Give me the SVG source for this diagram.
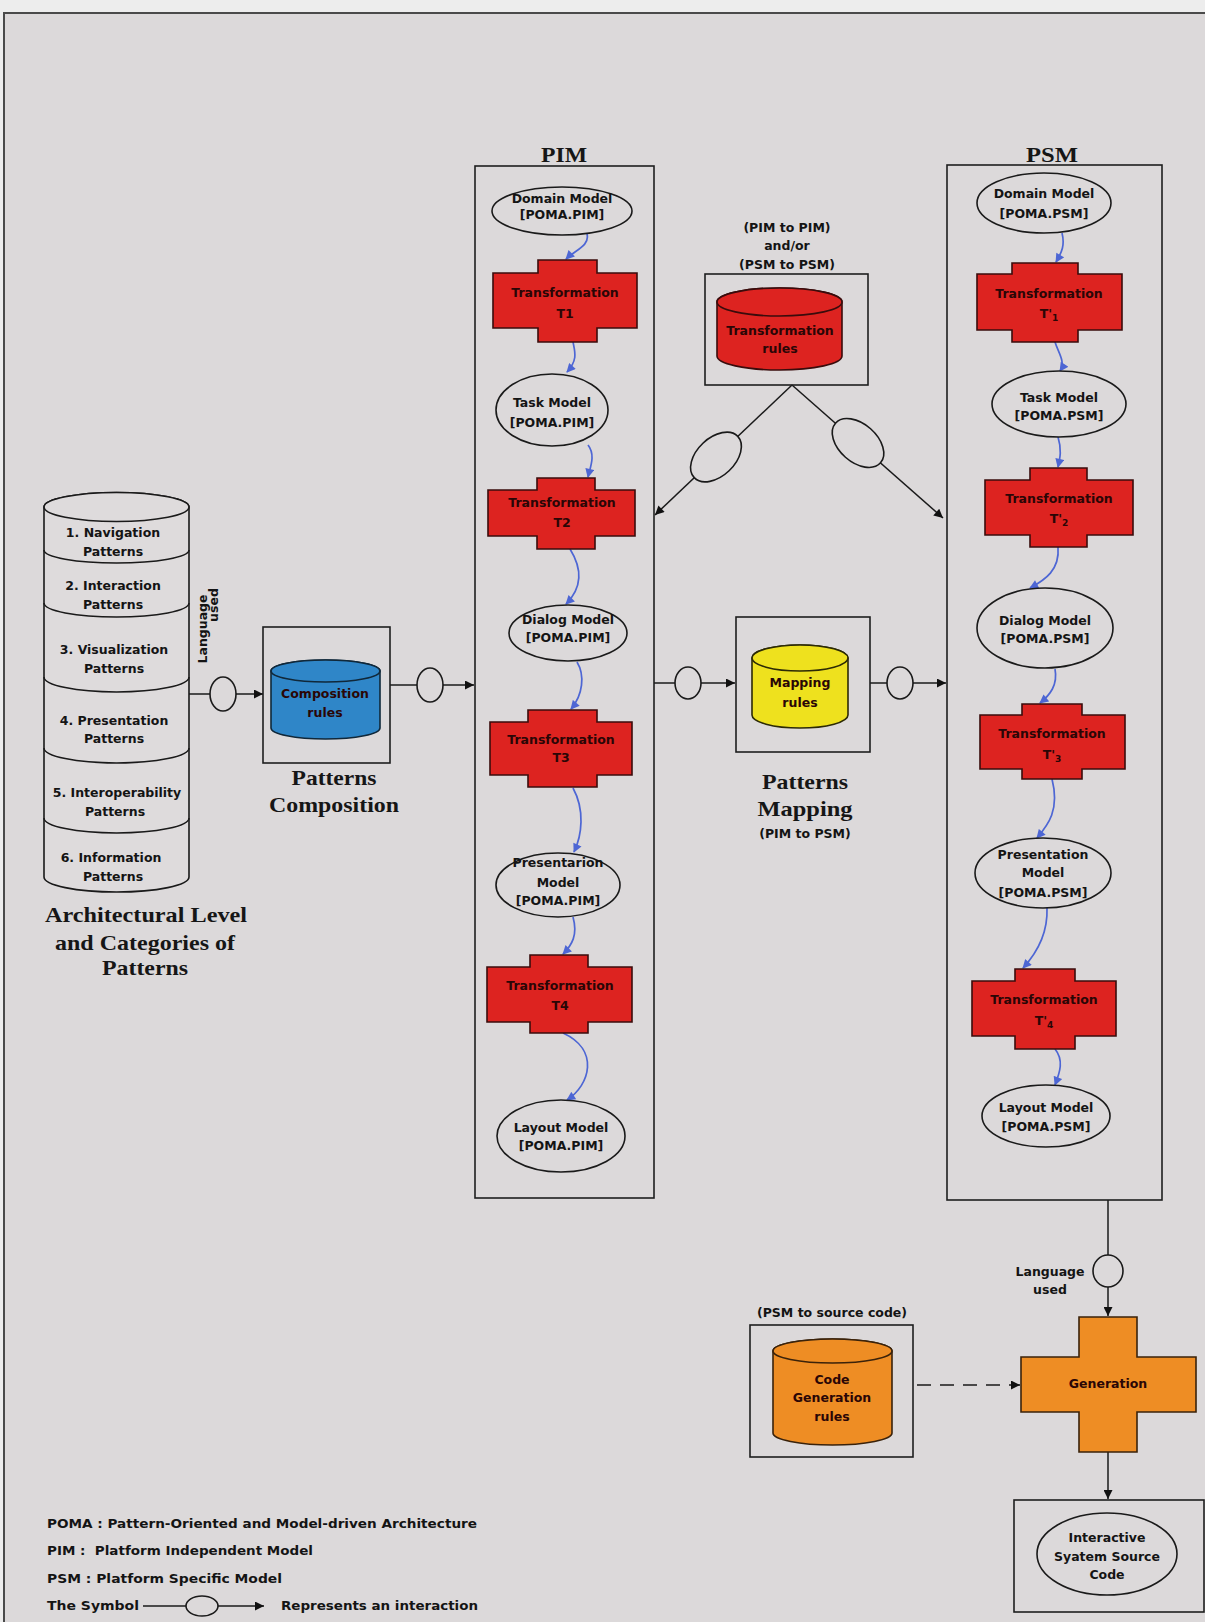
<svg xmlns="http://www.w3.org/2000/svg" width="1205" height="1622" viewBox="0 0 1205 1622">
<defs>
<style>
.frame{fill:#dcd9da;stroke:#4a4a4a;stroke-width:2}
.box{fill:none;stroke:#1e1e1e;stroke-width:1.6}
.ln{stroke:#1a1a1a;stroke-width:1.5;fill:none}
.el{fill:#dcd9da;stroke:#1a1a1a;stroke-width:1.6}
.red{fill:#dd2320;stroke:#3a0c0c;stroke-width:1.6}
.blu{fill:#2f86c8;stroke:#10283a;stroke-width:1.6}
.yel{fill:#eee11e;stroke:#2c2a05;stroke-width:1.6}
.org{fill:#ee8d24;stroke:#3a220a;stroke-width:1.6}
.cyl{fill:#dedbdc;stroke:#1a1a1a;stroke-width:1.6}
.t{font-family:"DejaVu Sans","Liberation Sans",sans-serif;font-weight:bold;font-size:12.5px;fill:#141414;text-anchor:middle}
.tr{font-family:"DejaVu Sans","Liberation Sans",sans-serif;font-weight:bold;font-size:12.5px;fill:#2a0606;text-anchor:middle}
.lg{font-family:"DejaVu Sans","Liberation Sans",sans-serif;font-weight:bold;font-size:12px;fill:#141414}
.s{font-family:"Liberation Serif","Times New Roman",serif;font-weight:bold;font-size:21px;fill:#161616;text-anchor:middle}
.bc{stroke:#4d66d4;stroke-width:1.7;fill:none;marker-end:url(#ab)}
.ar{stroke:#1a1a1a;stroke-width:1.5;fill:none;marker-end:url(#ak)}
</style>
<marker id="ab" viewBox="0 0 10 10" refX="9" refY="5" markerWidth="10" markerHeight="9" markerUnits="userSpaceOnUse" orient="auto"><path d="M0,0 L10,5 L0,10 z" fill="#4d66d4"/></marker>
<marker id="ak" viewBox="0 0 10 10" refX="10" refY="5" markerWidth="11" markerHeight="9" markerUnits="userSpaceOnUse" orient="auto"><path d="M0,0 L10,5 L0,10 z" fill="#111"/></marker>
</defs>
<rect x="0" y="0" width="1205" height="1622" fill="#ededed"/>
<rect class="frame" x="4" y="13" width="1215" height="1625"/>

<g id="connectors">
<path class="bc" d="M587,234 C590,246 575,250 566,259"/>
<path class="bc" d="M573,342 C575,352 578,360 567,372"/>
<path class="bc" d="M588,445 C596,455 590,468 588,477"/>
<path class="bc" d="M570,549 C580,565 585,585 566,604"/>
<path class="bc" d="M577,662 C585,675 583,695 571,709"/>
<path class="bc" d="M573,788 C585,810 582,835 574,852"/>
<path class="bc" d="M573,917 C578,935 572,945 563,954"/>
<path class="bc" d="M563,1033 C600,1050 590,1085 567,1100"/>
<path class="bc" d="M1062,233 C1065,245 1062,252 1056,262"/>
<path class="bc" d="M1055,342 C1058,352 1066,362 1060,371"/>
<path class="bc" d="M1058,437 C1062,450 1060,458 1058,467"/>
<path class="bc" d="M1058,547 C1060,570 1045,580 1030,588"/>
<path class="bc" d="M1055,669 C1058,685 1050,695 1040,703"/>
<path class="bc" d="M1052,779 C1060,810 1048,825 1037,838"/>
<path class="bc" d="M1047,908 C1048,935 1035,955 1023,968"/>
<path class="bc" d="M1055,1049 C1064,1060 1060,1072 1055,1085"/>
<line class="ar" x1="189" y1="694" x2="263" y2="694"/>
<ellipse class="el" cx="223" cy="694" rx="13" ry="17"/>
<line class="ar" x1="390" y1="685" x2="474" y2="685"/>
<ellipse class="el" cx="430" cy="685" rx="13" ry="17"/>
<line class="ar" x1="654" y1="683" x2="735" y2="683"/>
<ellipse class="el" cx="688" cy="683" rx="13" ry="16"/>
<line class="ar" x1="870" y1="683" x2="946" y2="683"/>
<ellipse class="el" cx="900" cy="683" rx="13" ry="16"/>
<line class="ar" x1="792" y1="385" x2="655" y2="515"/>
<ellipse class="el" cx="716" cy="457" rx="30" ry="19" transform="rotate(-43.5 716 457)"/>
<line class="ar" x1="792" y1="385" x2="943" y2="518"/>
<ellipse class="el" cx="858" cy="443" rx="30" ry="19" transform="rotate(41.4 858 443)"/>
<line class="ar" x1="1108" y1="1200" x2="1108" y2="1316"/>
<ellipse class="el" cx="1108" cy="1271" rx="15" ry="16"/>
<line class="ar" x1="1108" y1="1452" x2="1108" y2="1499"/>
<line class="ar" x1="917" y1="1385" x2="1020" y2="1385" stroke-dasharray="14 9"/>
</g>

<g id="patterns-categories">
<path class="cyl" d="M44,507 A72.5,14.5 0 0 1 189,507 V877 A72.5,15 0 0 1 44,877 Z"/>
<ellipse class="cyl" cx="116.5" cy="507" rx="72.5" ry="14.5"/>
<path class="ln" d="M44,550 A72.5,13 0 0 0 189,550"/>
<path class="ln" d="M44,603 A72.5,14 0 0 0 189,603"/>
<path class="ln" d="M44,677 A72.5,15 0 0 0 189,677"/>
<path class="ln" d="M44,748 A72.5,15 0 0 0 189,748"/>
<path class="ln" d="M44,818 A72.5,15 0 0 0 189,818"/>
<text class="t" x="113" y="537">1. Navigation</text>
<text class="t" x="113" y="556">Patterns</text>
<text class="t" x="113" y="590">2. Interaction</text>
<text class="t" x="113" y="609">Patterns</text>
<text class="t" x="114" y="654">3. Visualization</text>
<text class="t" x="114" y="673">Patterns</text>
<text class="t" x="114" y="725">4. Presentation</text>
<text class="t" x="114" y="743">Patterns</text>
<text class="t" x="117" y="797">5. Interoperability</text>
<text class="t" x="115" y="816">Patterns</text>
<text class="t" x="111" y="862">6. Information</text>
<text class="t" x="113" y="881">Patterns</text>
<text class="s" x="146" y="922" textLength="202" lengthAdjust="spacingAndGlyphs">Architectural Level</text>
<text class="s" x="145" y="950" textLength="180" lengthAdjust="spacingAndGlyphs">and Categories of</text>
<text class="s" x="145" y="975" textLength="86" lengthAdjust="spacingAndGlyphs">Patterns</text>
<text class="t" transform="translate(207,629) rotate(-90)">Language</text>
<text class="t" transform="translate(218,605) rotate(-90)">used</text>
</g>

<g id="patterns-composition">
<rect class="box" x="263" y="627" width="127" height="136"/>
<path class="blu" d="M271,671 A54.5,11 0 0 1 380,671 V728 A54.5,11 0 0 1 271,728 Z"/>
<ellipse class="blu" cx="325.5" cy="671" rx="54.5" ry="11"/>
<text class="tr" x="325" y="698">Composition</text>
<text class="tr" x="325" y="717">rules</text>
<text class="s" x="334" y="785" textLength="85" lengthAdjust="spacingAndGlyphs">Patterns</text>
<text class="s" x="334" y="812" textLength="130" lengthAdjust="spacingAndGlyphs">Composition</text>
</g>

<g id="pim">
<rect class="box" x="475" y="166" width="179" height="1032"/>
<text class="s" x="564" y="162" textLength="46" lengthAdjust="spacingAndGlyphs">PIM</text>
</g>
<g id="pim-domain">
<ellipse class="el" cx="562" cy="211" rx="70" ry="24"/>
<text class="t" x="562" y="203">Domain Model</text>
<text class="t" x="562" y="219">[POMA.PIM]</text>
</g>
<g id="pim-t1">
<path class="red" d="M538,260 H597 V273 H637 V328 H597 V342 H538 V328 H493 V273 H538 Z"/>
<text class="tr" x="565" y="297">Transformation</text>
<text class="tr" x="565" y="318">T1</text>
</g>
<g id="pim-task">
<ellipse class="el" cx="552" cy="410" rx="56" ry="36"/>
<text class="t" x="552" y="407">Task Model</text>
<text class="t" x="552" y="427">[POMA.PIM]</text>
</g>
<g id="pim-t2">
<path class="red" d="M537,478 H595 V490 H635 V536 H595 V549 H537 V536 H488 V490 H537 Z"/>
<text class="tr" x="562" y="507">Transformation</text>
<text class="tr" x="562" y="527">T2</text>
</g>
<g id="pim-dialog">
<ellipse class="el" cx="568" cy="633" rx="59" ry="28"/>
<text class="t" x="568" y="624">Dialog Model</text>
<text class="t" x="568" y="642">[POMA.PIM]</text>
</g>
<g id="pim-t3">
<path class="red" d="M528,710 H597 V722 H632 V775 H597 V787 H528 V775 H490 V722 H528 Z"/>
<text class="tr" x="561" y="744">Transformation</text>
<text class="tr" x="561" y="762">T3</text>
</g>
<g id="pim-presentation">
<ellipse class="el" cx="558" cy="885" rx="62" ry="32"/>
<text class="t" x="558" y="867">Presentarion</text>
<text class="t" x="558" y="887">Model</text>
<text class="t" x="558" y="905">[POMA.PIM]</text>
</g>
<g id="pim-t4">
<path class="red" d="M530,955 H588 V967 H632 V1022 H588 V1033 H530 V1022 H487 V967 H530 Z"/>
<text class="tr" x="560" y="990">Transformation</text>
<text class="tr" x="560" y="1010">T4</text>
</g>
<g id="pim-layout">
<ellipse class="el" cx="561" cy="1136" rx="64" ry="36"/>
<text class="t" x="561" y="1132">Layout Model</text>
<text class="t" x="561" y="1150">[POMA.PIM]</text>
</g>

<g id="transformation-rules">
<text class="t" x="787" y="232">(PIM to PIM)</text>
<text class="t" x="787" y="250">and/or</text>
<text class="t" x="787" y="269">(PSM to PSM)</text>
<rect class="box" x="705" y="274" width="163" height="111"/>
<path class="red" d="M717,302 A62.5,14 0 0 1 842,302 V356 A62.5,14 0 0 1 717,356 Z"/>
<ellipse class="red" cx="779.5" cy="302" rx="62.5" ry="14"/>
<text class="tr" x="780" y="335">Transformation</text>
<text class="tr" x="780" y="353">rules</text>
</g>

<g id="patterns-mapping">
<rect class="box" x="736" y="617" width="134" height="135"/>
<path class="yel" d="M752,658 A48,13 0 0 1 848,658 V715 A48,13 0 0 1 752,715 Z"/>
<ellipse class="yel" cx="800" cy="658" rx="48" ry="13"/>
<text class="tr" x="800" y="687">Mapping</text>
<text class="tr" x="800" y="707">rules</text>
<text class="s" x="805" y="789" textLength="86" lengthAdjust="spacingAndGlyphs">Patterns</text>
<text class="s" x="805" y="816" textLength="95" lengthAdjust="spacingAndGlyphs">Mapping</text>
<text class="t" x="805" y="838">(PIM to PSM)</text>
</g>

<g id="psm">
<rect class="box" x="947" y="165" width="215" height="1035"/>
<text class="s" x="1052" y="162" textLength="52" lengthAdjust="spacingAndGlyphs">PSM</text>
</g>
<g id="psm-domain">
<ellipse class="el" cx="1044" cy="203" rx="67" ry="30"/>
<text class="t" x="1044" y="198">Domain Model</text>
<text class="t" x="1044" y="218">[POMA.PSM]</text>
</g>
<g id="psm-t1">
<path class="red" d="M1012,263 H1078 V274 H1122 V330 H1078 V342 H1012 V330 H977 V274 H1012 Z"/>
<text class="tr" x="1049" y="298">Transformation</text>
<text class="tr" x="1049" y="318">T'<tspan font-size="9" dy="3">1</tspan></text>
</g>
<g id="psm-task">
<ellipse class="el" cx="1059" cy="404" rx="67" ry="33"/>
<text class="t" x="1059" y="402">Task Model</text>
<text class="t" x="1059" y="420">[POMA.PSM]</text>
</g>
<g id="psm-t2">
<path class="red" d="M1030,468 H1087 V480 H1133 V535 H1087 V547 H1030 V535 H985 V480 H1030 Z"/>
<text class="tr" x="1059" y="503">Transformation</text>
<text class="tr" x="1059" y="523">T'<tspan font-size="9" dy="3">2</tspan></text>
</g>
<g id="psm-dialog">
<ellipse class="el" cx="1045" cy="628" rx="68" ry="40"/>
<text class="t" x="1045" y="625">Dialog Model</text>
<text class="t" x="1045" y="643">[POMA.PSM]</text>
</g>
<g id="psm-t3">
<path class="red" d="M1022,704 H1082 V715 H1125 V769 H1082 V779 H1022 V769 H980 V715 H1022 Z"/>
<text class="tr" x="1052" y="738">Transformation</text>
<text class="tr" x="1052" y="759">T'<tspan font-size="9" dy="3">3</tspan></text>
</g>
<g id="psm-presentation">
<ellipse class="el" cx="1043" cy="873" rx="68" ry="35"/>
<text class="t" x="1043" y="859">Presentation</text>
<text class="t" x="1043" y="877">Model</text>
<text class="t" x="1043" y="897">[POMA.PSM]</text>
</g>
<g id="psm-t4">
<path class="red" d="M1015,969 H1075 V981 H1116 V1036 H1075 V1049 H1015 V1036 H972 V981 H1015 Z"/>
<text class="tr" x="1044" y="1004">Transformation</text>
<text class="tr" x="1044" y="1025">T'<tspan font-size="9" dy="3">4</tspan></text>
</g>
<g id="psm-layout">
<ellipse class="el" cx="1046" cy="1116" rx="64" ry="31"/>
<text class="t" x="1046" y="1112">Layout Model</text>
<text class="t" x="1046" y="1131">[POMA.PSM]</text>
</g>

<g id="language-used">
<text class="t" x="1050" y="1276">Language</text>
<text class="t" x="1050" y="1294">used</text>
</g>

<g id="code-generation-rules">
<text class="t" x="832" y="1317">(PSM to source code)</text>
<rect class="box" x="750" y="1325" width="163" height="132"/>
<path class="org" d="M773,1351 A59.5,12 0 0 1 892,1351 V1433 A59.5,12 0 0 1 773,1433 Z"/>
<ellipse class="org" cx="832.5" cy="1351" rx="59.5" ry="12"/>
<text class="tr" x="832" y="1384">Code</text>
<text class="tr" x="832" y="1402">Generation</text>
<text class="tr" x="832" y="1421">rules</text>
</g>

<g id="generation">
<path class="org" d="M1079,1317 H1137 V1357 H1196 V1412 H1137 V1452 H1079 V1412 H1021 V1357 H1079 Z"/>
<text class="tr" x="1108" y="1388">Generation</text>
</g>

<g id="source-code">
<rect class="box" x="1014" y="1500" width="190" height="112"/>
<ellipse class="el" cx="1107" cy="1554" rx="70" ry="41"/>
<text class="t" x="1107" y="1542">Interactive</text>
<text class="t" x="1107" y="1561">Syatem Source</text>
<text class="t" x="1107" y="1579">Code</text>
</g>

<g id="legend">
<text class="lg" x="47" y="1528" textLength="430" lengthAdjust="spacingAndGlyphs">POMA : Pattern-Oriented and Model-driven Architecture</text>
<text class="lg" x="47" y="1555" textLength="266" lengthAdjust="spacingAndGlyphs">PIM :&#160; Platform Independent Model</text>
<text class="lg" x="47" y="1583" textLength="235" lengthAdjust="spacingAndGlyphs">PSM : Platform Specific Model</text>
<text class="lg" x="47" y="1610" textLength="92" lengthAdjust="spacingAndGlyphs">The Symbol</text>
<line class="ln" x1="143" y1="1606" x2="186" y2="1606"/>
<ellipse class="el" cx="202" cy="1606" rx="16" ry="10"/>
<line class="ar" x1="218" y1="1606" x2="264" y2="1606"/>
<text class="lg" x="281" y="1610" textLength="197" lengthAdjust="spacingAndGlyphs">Represents an interaction</text>
</g>
</svg>
